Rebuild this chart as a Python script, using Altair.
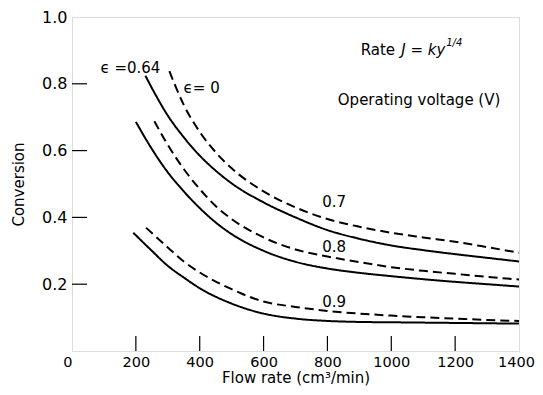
import altair as alt
import pandas as pd

# ---- data ----
s07_x = [230, 260, 300, 350, 400, 450, 500, 600, 700, 800, 900, 1000, 1100, 1200, 1300, 1400]
s07_y = [0.824, 0.77, 0.705, 0.64, 0.585, 0.54, 0.502, 0.445, 0.40, 0.362, 0.336, 0.316, 0.302, 0.29, 0.279, 0.268]

d07_x = [305, 350, 400, 450, 500, 600, 700, 800, 900, 1000, 1100, 1200, 1300, 1400]
d07_y = [0.838, 0.737, 0.656, 0.595, 0.547, 0.478, 0.43, 0.395, 0.372, 0.354, 0.34, 0.327, 0.311, 0.294]

s08_x = [200, 250, 300, 350, 400, 450, 500, 600, 700, 800, 900, 1000, 1100, 1200, 1300, 1400]
s08_y = [0.686, 0.605, 0.535, 0.478, 0.428, 0.385, 0.35, 0.30, 0.267, 0.247, 0.234, 0.224, 0.215, 0.207, 0.20, 0.193]

d08_x = [258, 300, 350, 400, 450, 500, 600, 700, 800, 900, 1000, 1100, 1200, 1300, 1400]
d08_y = [0.688, 0.617, 0.545, 0.485, 0.434, 0.395, 0.34, 0.304, 0.283, 0.266, 0.251, 0.24, 0.231, 0.222, 0.214]

s09_x = [192, 250, 300, 350, 400, 500, 600, 700, 800, 900, 1000, 1200, 1400]
s09_y = [0.354, 0.30, 0.255, 0.22, 0.188, 0.142, 0.112, 0.097, 0.09, 0.087, 0.086, 0.084, 0.082]

d09_x = [232, 300, 350, 400, 500, 600, 700, 800, 900, 1000, 1100, 1200, 1300, 1400]
d09_y = [0.369, 0.31, 0.268, 0.235, 0.185, 0.148, 0.132, 0.12, 0.112, 0.106, 0.101, 0.097, 0.093, 0.090]

x_ticks = [200, 400, 600, 800, 1000, 1200]
y_ticks = [0.2, 0.4, 0.6, 0.8]
x_labels = [0, 200, 400, 600, 800, 1000, 1200, 1400]
y_labels = [0.2, 0.4, 0.6, 0.8, 1.0]

voltage_labels = ["0.7", "0.8", "0.9"]
voltage_label_x = [821, 821, 821]
voltage_label_y = [0.447, 0.310, 0.148]

eps_labels = ["\u03f5 =0.64", "\u03f5= 0"]
eps_x = [183, 406]
eps_y = [0.848, 0.788]

ann_text = ["Rate", "J = ky", "1/4", "Operating voltage (V)"]
ann_x = [904, 1031, 1172, 1087]
ann_y = [0.901, 0.901, 0.922, 0.752]
ann_size = [15, 15, 10, 15]
ann_style = ["normal", "italic", "italic", "normal"]
ann_align = ["left", "left", "left", "center"]

FONT = "DejaVu Sans"

rows = []
for name, kind, xs, ys in [
    ("s07", "solid", s07_x, s07_y), ("d07", "dashed", d07_x, d07_y),
    ("s08", "solid", s08_x, s08_y), ("d08", "dashed", d08_x, d08_y),
    ("s09", "solid", s09_x, s09_y), ("d09", "dashed", d09_x, d09_y),
]:
    for i, (a, b) in enumerate(zip(xs, ys)):
        rows.append({"series": name, "kind": kind, "flow": a, "conv": b, "order": i})
df = pd.DataFrame(rows)

W, H = 447, 334

xscale = alt.Scale(domain=[0, 1400], nice=False, zero=False)
yscale = alt.Scale(domain=[0, 1], nice=False, zero=False)

x_axis = alt.Axis(
    values=x_labels, format="d", ticks=False, domain=False, grid=False,
    labelFlush=False, labelFontSize=14.5, labelFont=FONT, labelColor="black",
    labelPadding=4, title="Flow rate (cm\u00b3/min)", titleFontSize=15,
    titleFont=FONT, titleFontWeight="normal", titleColor="black", titlePadding=2,
    labelAlign={"condition": {"test": "datum.value === 0", "value": "right"}, "value": "center"},
    labelOffset={"condition": {"test": "datum.value === 1400", "value": -3}, "value": 0},
)
y_axis = alt.Axis(
    values=y_labels, format=".1f", ticks=False, domain=False, grid=False,
    labelFontSize=16, labelFont=FONT, labelColor="black", labelPadding=5,
    title="Conversion", titleFontSize=15, titleFont=FONT, titleFontWeight="normal",
    titleColor="black", titlePadding=15,
)

lines = alt.Chart(df).mark_line(color="black", strokeWidth=2, interpolate="monotone").encode(
    x=alt.X("flow:Q", scale=xscale, axis=x_axis),
    y=alt.Y("conv:Q", scale=yscale, axis=y_axis),
    detail="series:N",
    order="order:Q",
    strokeDash=alt.StrokeDash("kind:N", scale=alt.Scale(domain=["solid", "dashed"], range=[[1, 0], [9, 5]]), legend=None),
)

xt = alt.Chart(pd.DataFrame({"v": x_ticks})).mark_rule(color="black", strokeWidth=1.2).encode(
    x=alt.X("v:Q", scale=xscale), y=alt.value(H), y2=alt.value(H - 15)
)
yt = alt.Chart(pd.DataFrame({"v": y_ticks})).mark_rule(color="black", strokeWidth=1.2).encode(
    y=alt.Y("v:Q", scale=yscale), x=alt.value(0), x2=alt.value(15)
)

vl = alt.Chart(pd.DataFrame({"t": voltage_labels, "x": voltage_label_x, "y": voltage_label_y})).mark_text(
    font=FONT, fontSize=15, color="black"
).encode(x=alt.X("x:Q", scale=xscale), y=alt.Y("y:Q", scale=yscale), text="t:N")

el = alt.Chart(pd.DataFrame({"t": eps_labels, "x": eps_x, "y": eps_y})).mark_text(
    font=FONT, fontSize=15, color="black"
).encode(x=alt.X("x:Q", scale=xscale), y=alt.Y("y:Q", scale=yscale), text="t:N")

ann_layers = []
for t, ax_, ay_, sz, st, al in zip(ann_text, ann_x, ann_y, ann_size, ann_style, ann_align):
    ann_layers.append(
        alt.Chart(pd.DataFrame({"t": [t], "x": [ax_], "y": [ay_]})).mark_text(
            font=FONT, fontSize=sz, fontStyle=st, align=al, color="black"
        ).encode(x=alt.X("x:Q", scale=xscale), y=alt.Y("y:Q", scale=yscale), text="t:N")
    )

chart = alt.layer(lines, xt, yt, vl, el, *ann_layers).properties(
    width=W, height=H,
    autosize=alt.AutoSizeParams(type="none"),
    padding={"left": 64, "top": 9, "right": 16, "bottom": 36},
).configure_view(stroke="black", strokeWidth=1.5).configure(background="white")

chart.save("out.html", embed_options={"renderer": "svg", "actions": False})
